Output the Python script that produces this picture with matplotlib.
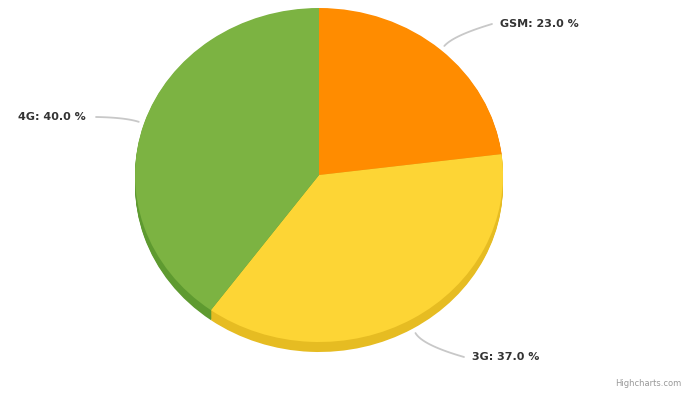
import numpy as np
import matplotlib
matplotlib.use("Agg")
import matplotlib.pyplot as plt

categories = ["GSM", "3G", "4G"]
values = [23.0, 37.0, 40.0]
top_colors = ["#FF8C00", "#FDD535", "#7CB342"]
side_colors = ["#D97400", "#E6BC22", "#5E9A30"]

W, H = 684, 393
fig = plt.figure(figsize=(W / 100, H / 100), dpi=100)
fig.patch.set_facecolor("white")

# pie geometry in pixels
cx, cy, rx, ry = 319, 175, 184, 167
depth_px = 10
depth = depth_px / ry

pax = fig.add_axes([(cx - rx) / W, (H - cy - ry - depth_px) / H, 2 * rx / W, (2 * ry + depth_px) / H])
pax.axis("off")
for d in np.linspace(depth, 0.005, 10):
    pax.pie(values, colors=side_colors, startangle=90, counterclock=False,
            radius=1, center=(0, -d), wedgeprops=dict(linewidth=0))
pax.pie(values, colors=top_colors, startangle=90, counterclock=False,
        radius=1, center=(0, 0), wedgeprops=dict(linewidth=0))
pax.set_aspect("auto")
pax.set_xlim(-1, 1)
pax.set_ylim(-1 - depth, 1)

# overlay axes in pixel coordinates for labels
ax = fig.add_axes([0, 0, 1, 1], facecolor="none")
ax.set_xlim(0, W)
ax.set_ylim(H, 0)
ax.axis("off")

label_pos = {"GSM": (500, 24, "left"), "3G": (472, 357, "left"), "4G": (86, 117, "right")}
cum = np.cumsum([0] + values[:-1])
t = np.linspace(0, 1, 40)
for cat, v, c0 in zip(categories, values, cum):
    ang = np.deg2rad((c0 + v / 2) / 100 * 360)
    sx = cx + rx * 1.03 * np.sin(ang)
    sy = cy - ry * 1.03 * np.cos(ang)
    if np.cos(ang) < 0:
        sy += depth_px
    lx, ly, ha = label_pos[cat]
    ex = lx - 8 if ha == "left" else lx + 10
    kx = sx + 14 * np.sin(ang)
    ky = sy - 14 * np.cos(ang)
    bx = (1 - t) ** 2 * sx + 2 * (1 - t) * t * kx + t ** 2 * ex
    by = (1 - t) ** 2 * sy + 2 * (1 - t) * t * ky + t ** 2 * ly
    ax.plot(bx, by, color="#C8C8C8", lw=1.3, solid_capstyle="round")
    ax.text(lx, ly, f"{cat}: {v:.1f} %", ha=ha, va="center", fontsize=8,
            fontweight="bold", color="#333333", family="DejaVu Sans")

ax.text(681, 383, "Highcharts.com", ha="right", va="center", fontsize=6, color="#999999")

fig.savefig("out.png", dpi=100, facecolor="white")
